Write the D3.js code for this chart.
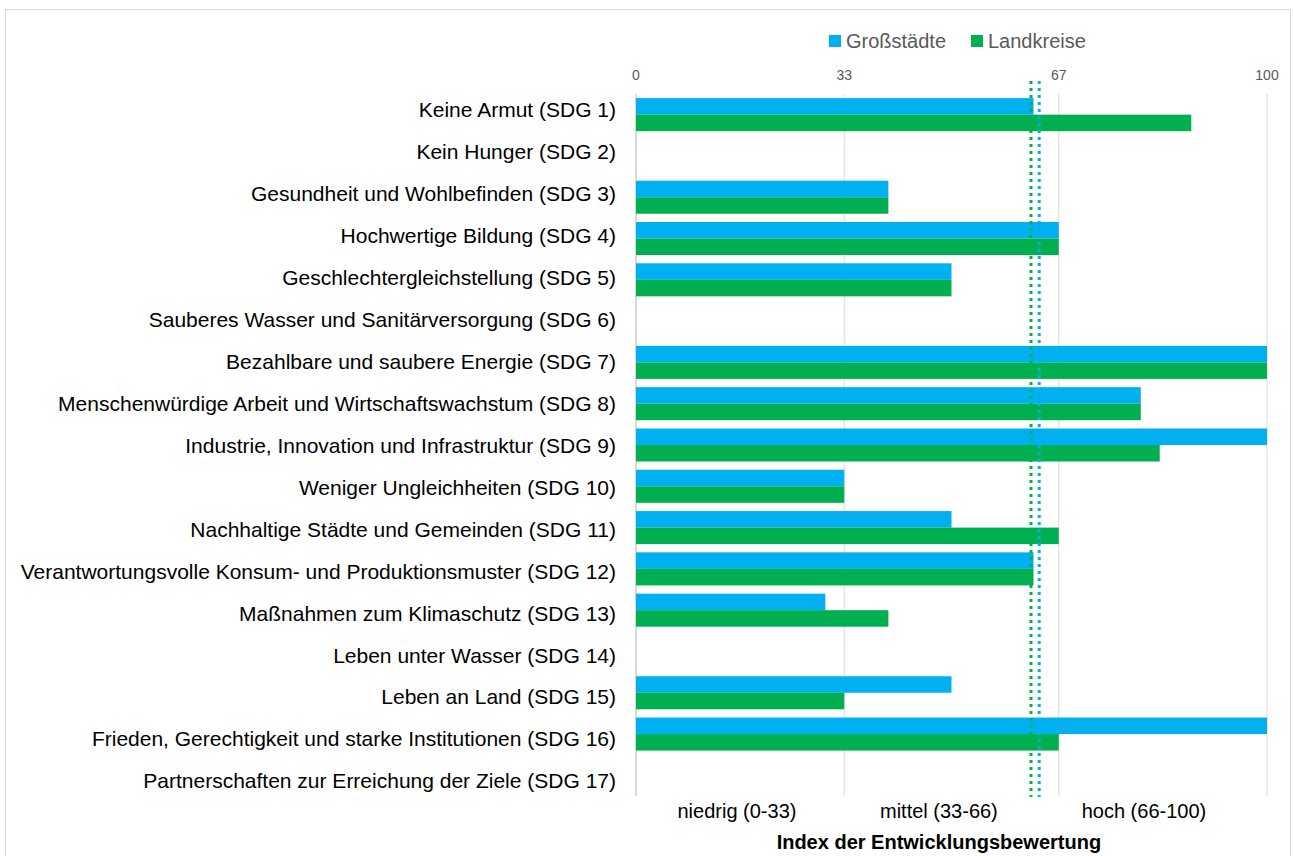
<!DOCTYPE html>
<html>
<head>
<meta charset="utf-8">
<script src="https://cdn.jsdelivr.net/npm/d3@7"></script>
<style>
  body { margin: 0; background: #fff; }
  text { font-family: "Liberation Sans", Arial, sans-serif; }
</style>
</head>
<body>
<div id="chart"></div>
<script>
var categories = [
  "Keine Armut (SDG 1)",
  "Kein Hunger (SDG 2)",
  "Gesundheit und Wohlbefinden (SDG 3)",
  "Hochwertige Bildung (SDG 4)",
  "Geschlechtergleichstellung (SDG 5)",
  "Sauberes Wasser und Sanitärversorgung (SDG 6)",
  "Bezahlbare und saubere Energie (SDG 7)",
  "Menschenwürdige Arbeit und Wirtschaftswachstum (SDG 8)",
  "Industrie, Innovation und Infrastruktur (SDG 9)",
  "Weniger Ungleichheiten (SDG 10)",
  "Nachhaltige Städte und Gemeinden (SDG 11)",
  "Verantwortungsvolle Konsum- und Produktionsmuster (SDG 12)",
  "Maßnahmen zum Klimaschutz (SDG 13)",
  "Leben unter Wasser (SDG 14)",
  "Leben an Land (SDG 15)",
  "Frieden, Gerechtigkeit und starke Institutionen (SDG 16)",
  "Partnerschaften zur Erreichung der Ziele (SDG 17)"
];
var seriesNames = ["Großstädte", "Landkreise"];
var grossstaedte = [63, null, 40, 67, 50, null, 100, 80, 100, 33, 50, 63, 30, null, 50, 100, null];
var landkreise   = [88, null, 40, 67, 50, null, 100, 80, 83, 33, 67, 63, 40, null, 33, 67, null];
var averages = [63.9, 62.6];   // Großstädte, Landkreise (dotted lines)
var ticks = [0, 33, 67, 100];
var rangeLabels = ["niedrig (0-33)", "mittel (33-66)", "hoch (66-100)"];
var rangeLabelPos = [16, 48, 80.5];
var axisTitle = "Index der Entwicklungsbewertung";

var colors = ["#00B0F0", "#00B050"];
var W = 1293, H = 856;
var margin = { left: 636, right: 26, top: 94, bottom: 60 };

var svg = d3.select("#chart").append("svg").attr("width", W).attr("height", H);

svg.append("rect").attr("x", 5.5).attr("y", 9.5).attr("width", 1285).attr("height", 860)
  .attr("fill", "none").attr("stroke", "#d9d9d9");

var x = d3.scaleLinear().domain([0, 100]).range([margin.left, 1267]);
var y = d3.scaleBand().domain(categories).range([margin.top, 796]);
var ySub = d3.scaleBand().domain(seriesNames).range([0, y.bandwidth()]).paddingOuter(0.25);
// category labels sit on a slightly wider spacing than the bars
var yLabel = d3.scalePoint().domain(categories).range([110, 781]);

// gridlines
svg.append("g").selectAll("line").data(ticks).enter().append("line")
  .attr("x1", function(d) { return x(d); }).attr("x2", function(d) { return x(d); })
  .attr("y1", margin.top).attr("y2", 796)
  .attr("stroke", "#d9d9d9").attr("stroke-width", function(d) { return d === 0 ? 2 : 1; });

// top tick labels
svg.append("g").selectAll("text").data(ticks).enter().append("text")
  .attr("x", function(d) { return x(d); }).attr("y", 80)
  .attr("text-anchor", "middle").attr("font-size", 14).attr("fill", "#595959")
  .text(function(d) { return d; });

// bars
var series = [grossstaedte, landkreise];
series.forEach(function(vals, si) {
  svg.append("g").selectAll("rect")
    .data(vals.map(function(v, i) { return { cat: categories[i], v: v }; }).filter(function(d) { return d.v !== null; }))
    .enter().append("rect")
    .attr("x", x(0))
    .attr("y", function(d) { return y(d.cat) + ySub(seriesNames[si]); })
    .attr("width", function(d) { return x(d.v) - x(0); })
    .attr("height", ySub.bandwidth())
    .attr("fill", colors[si]);
});

// category labels
svg.append("g").selectAll("text").data(categories).enter().append("text")
  .attr("x", margin.left - 20)
  .attr("y", function(d) { return yLabel(d); })
  .attr("dy", "0.35em")
  .attr("text-anchor", "end").attr("font-size", 21).attr("fill", "#000")
  .text(function(d) { return d; });

// average dotted lines
[1, 0].forEach(function(si) {
  svg.append("line")
    .attr("x1", x(averages[si])).attr("x2", x(averages[si]))
    .attr("y1", 81).attr("y2", 797)
    .attr("stroke", colors[si]).attr("stroke-width", 3)
    .attr("stroke-dasharray", "3,4");
});

// range labels
svg.append("g").selectAll("text").data(rangeLabels).enter().append("text")
  .attr("x", function(d, i) { return x(rangeLabelPos[i]); })
  .attr("y", 818).attr("text-anchor", "middle").attr("font-size", 20).attr("fill", "#000")
  .text(function(d) { return d; });

svg.append("text").attr("x", x(48)).attr("y", 849).attr("text-anchor", "middle")
  .attr("font-size", 20).attr("font-weight", "bold").attr("fill", "#000")
  .text(axisTitle);

// legend
var legend = svg.append("g");
var lx = [829, 971];
seriesNames.forEach(function(name, i) {
  legend.append("rect").attr("x", lx[i]).attr("y", 35).attr("width", 12).attr("height", 12).attr("fill", colors[i]);
  legend.append("text").attr("x", lx[i] + 17).attr("y", 48).attr("font-size", 20).attr("fill", "#595959").text(name);
});
</script>
</body>
</html>
